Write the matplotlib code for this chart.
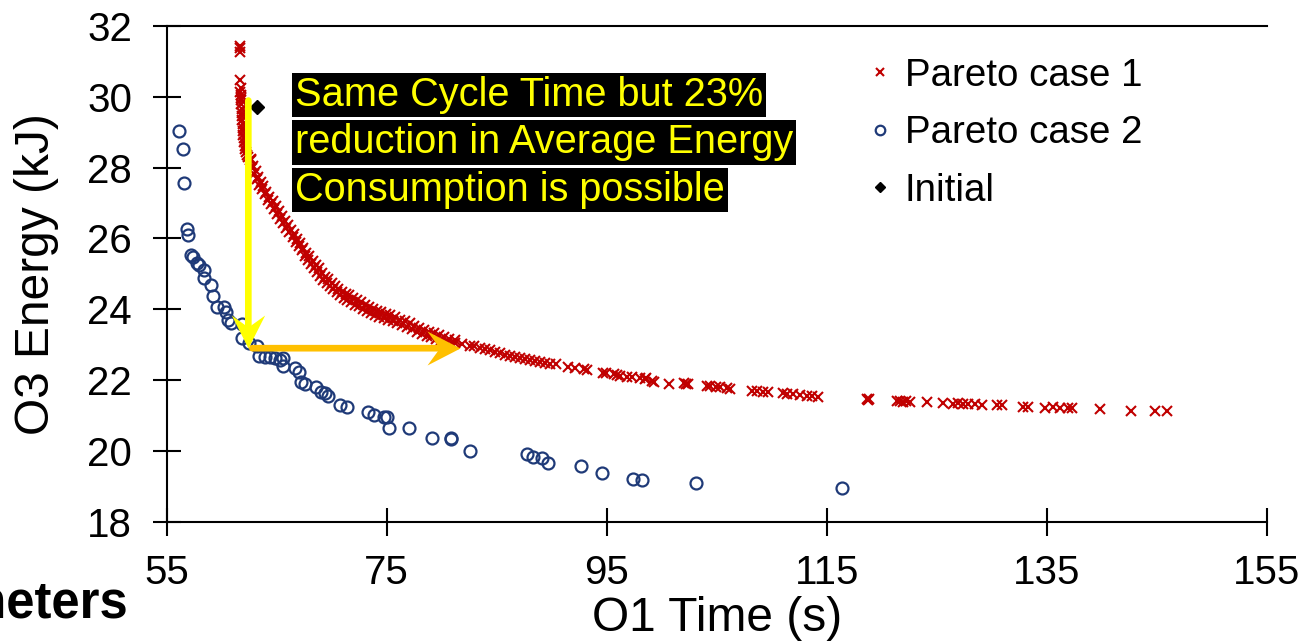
import matplotlib
matplotlib.use("Agg")
import matplotlib.pyplot as plt
from matplotlib.path import Path

plt.rcParams['font.family'] = ['Liberation Sans', 'DejaVu Sans']

# ---------------- data ----------------
# Pareto front, case 1 (time in s, energy in kJ)
pareto1_time = [
    61.62, 61.66, 61.64, 61.68, 61.72, 61.70, 61.76, 61.74, 61.80, 61.78,
    61.84, 61.82, 61.88, 61.86, 61.92, 61.90, 61.96, 61.98, 62.04, 62.02,
    62.10, 62.14, 62.22, 62.30, 62.42, 62.55,
    62.62, 62.70, 62.78, 62.88, 62.98, 63.08, 63.18, 63.30, 63.42, 63.55,
    63.68, 63.80, 63.93, 64.06, 64.20, 64.34, 64.48, 64.62, 64.76, 64.90,
    65.04, 65.18, 65.32, 65.46, 65.60, 65.74, 65.88, 66.02, 66.16, 66.30,
    66.44, 66.58, 66.72, 66.86, 67.00, 67.14, 67.28, 67.42, 67.56, 67.70,
    67.84, 67.98, 68.12, 68.26, 68.40, 68.54, 68.68, 68.82, 68.96, 69.10,
    69.25, 69.40, 69.55, 69.70, 69.85, 70.00, 70.15, 70.30, 70.45, 70.60,
    70.75, 70.92, 71.09, 71.26, 71.43, 71.60, 71.77, 71.94, 72.11, 72.28,
    72.46, 72.64, 72.82, 73.00, 73.18, 73.36, 73.54, 73.72, 73.92, 74.12,
    74.32, 74.52, 74.72, 74.92, 75.12, 75.32, 75.54, 75.76, 75.98, 76.20,
    76.42, 76.64, 76.86, 77.08, 77.30, 77.52, 77.74, 77.96, 78.18, 78.40,
    78.62, 78.84, 79.06, 79.28, 79.50, 79.72, 79.95, 80.20, 80.45, 80.70,
    80.95, 81.20,
    81.21, 81.85, 82.57, 82.94, 83.48, 83.94, 84.39, 84.85, 85.30, 85.75,
    86.21, 86.66, 87.12, 87.57, 88.03, 88.48, 88.94, 89.39, 89.85, 90.39,
    91.48, 92.12, 92.94, 93.21, 94.66, 94.94, 95.66, 95.94, 96.21, 96.85,
    97.30, 98.03, 98.48, 98.56, 99.12, 99.30, 100.66, 102.03, 102.21, 102.39,
    104.12, 104.39, 104.94, 105.30, 105.94, 106.21, 108.21, 108.66, 109.21,
    109.66, 111.03, 111.39, 111.94, 112.57, 113.21, 113.66, 114.21,
    118.70, 118.78, 118.85, 121.39, 121.66, 121.94, 122.20, 122.57, 124.12,
    125.57, 126.48, 126.93, 127.39, 127.84, 128.48, 129.12, 130.50, 130.90,
    132.85, 133.30, 134.85, 135.57, 136.21, 136.94, 137.30, 139.85, 142.66,
    144.84, 145.94,
]
pareto1_energy = [
    31.42, 31.36, 31.25, 30.47, 30.24, 30.14, 30.05, 29.96, 29.90, 29.78,
    29.66, 29.55, 29.44, 29.33, 29.22, 29.12, 29.02, 28.92, 28.82, 28.72,
    28.62, 28.52, 28.44, 28.36, 28.30, 28.22,
    28.24, 28.20, 27.99, 28.04, 27.82, 27.90, 27.68, 27.72, 27.51, 27.59,
    27.38, 27.47, 27.26, 27.32, 27.09, 27.18, 26.97, 27.05, 26.83, 26.90,
    26.68, 26.76, 26.56, 26.64, 26.44, 26.50, 26.29, 26.37, 26.17, 26.25,
    26.04, 26.11, 25.90, 25.98, 25.78, 25.86, 25.66, 25.72, 25.51, 25.59,
    25.39, 25.49, 25.28, 25.36, 25.16, 25.25, 25.05, 25.15, 24.95, 25.02,
    24.82, 24.92, 24.74, 24.85, 24.65, 24.75, 24.56, 24.66, 24.48, 24.58,
    24.39, 24.50, 24.32, 24.44, 24.27, 24.39, 24.21, 24.32, 24.13, 24.25,
    24.08, 24.20, 24.02, 24.13, 23.95, 24.07, 23.90, 24.02, 23.84, 23.96,
    23.79, 23.92, 23.75, 23.87, 23.71, 23.83, 23.66, 23.77, 23.60, 23.71,
    23.55, 23.66, 23.49, 23.60, 23.43, 23.54, 23.37, 23.48, 23.31, 23.42,
    23.25, 23.37, 23.21, 23.32, 23.16, 23.26, 23.12, 23.22, 23.08, 23.17,
    23.03, 23.12,
    23.05, 23.02, 22.96, 22.96, 22.91, 22.88, 22.85, 22.79, 22.77, 22.71,
    22.68, 22.65, 22.62, 22.60, 22.57, 22.54, 22.51, 22.48, 22.45, 22.45,
    22.37, 22.34, 22.31, 22.28, 22.20, 22.20, 22.17, 22.14, 22.12, 22.09,
    22.09, 22.06, 22.03, 22.05, 21.97, 21.95, 21.89, 21.92, 21.89, 21.89,
    21.83, 21.83, 21.81, 21.81, 21.78, 21.75, 21.69, 21.69, 21.66,
    21.66, 21.64, 21.61, 21.61, 21.58, 21.55, 21.55, 21.52,
    21.48, 21.45, 21.47, 21.41, 21.41, 21.39, 21.40, 21.39, 21.39,
    21.36, 21.33, 21.34, 21.33, 21.32, 21.33, 21.30, 21.30, 21.29,
    21.25, 21.24, 21.22, 21.23, 21.22, 21.22, 21.21, 21.19, 21.13,
    21.13, 21.13,
]

# Pareto front, case 2
pareto2_time = [
    56.12, 56.48, 56.57, 56.85, 56.94, 57.21, 57.39, 57.75, 57.94, 58.39,
    58.39, 59.03, 59.21, 59.57, 60.21, 60.39, 60.57, 60.85, 61.85, 61.85,
    62.48, 63.21, 63.39, 63.94, 64.39, 64.85, 65.30, 65.57, 65.57, 66.66,
    67.03, 67.21, 67.57, 68.57, 69.03, 69.39, 69.66, 70.75, 71.39, 73.30,
    73.85, 74.75, 75.03, 75.21, 77.03, 79.12, 80.85, 80.85, 82.57, 87.75,
    88.30, 89.12, 89.66, 92.66, 94.57, 97.39, 98.21, 103.12, 116.39,
]
pareto2_energy = [
    29.03, 28.52, 27.56, 26.26, 26.10, 25.53, 25.47, 25.31, 25.25, 25.11,
    24.88, 24.68, 24.37, 24.06, 24.06, 23.92, 23.70, 23.61, 23.58, 23.19,
    23.05, 22.96, 22.68, 22.65, 22.65, 22.62, 22.57, 22.62, 22.40, 22.34,
    22.23, 21.95, 21.89, 21.81, 21.66, 21.63, 21.55, 21.30, 21.24, 21.10,
    21.02, 20.96, 20.96, 20.65, 20.65, 20.37, 20.37, 20.34, 20.00, 19.91,
    19.83, 19.80, 19.66, 19.58, 19.38, 19.21, 19.18, 19.10, 18.96,
]

# Initial design
initial_time = [63.18]
initial_energy = [29.72]

x_ticks = [55, 75, 95, 115, 135, 155]
y_ticks = [18, 20, 22, 24, 26, 28, 30, 32]

callout_lines = [
    "Same Cycle Time but 23%",
    "reduction in Average Energy",
    "Consumption is possible",
]
callout_x = 66.66
callout_y = [30.05, 28.71, 27.37]

# arrow: same cycle time -> lower energy, then same energy -> longer time
drop_start = (62.42, 29.89)
drop_end = (62.42, 22.90)
shift_start = (62.78, 22.90)
shift_end = (81.67, 22.90)

red = '#C00000'
navy = '#1F3A78'
yellow = '#FFFF00'
gold = '#FFC000'

# ---------------- figure ----------------
W, H = 1310, 643
fig = plt.figure(figsize=(W / 100, H / 100), dpi=100)
ax = fig.add_axes([166.7 / W, (H - 521.8) / H, 1100 / W, 496 / H])

ax.plot(pareto1_time, pareto1_energy, ls='none', marker='x', ms=7.2, mew=1.5,
        color=red, label='Pareto case 1', zorder=3)
ax.plot(pareto2_time, pareto2_energy, ls='none', marker='o', ms=8.6, mew=1.6,
        mfc='none', mec=navy, label='Pareto case 2', zorder=3)
ax.plot(initial_time, initial_energy, ls='none', marker='D', ms=6.8,
        color='black', label='Initial', zorder=4)

ax.set_xlim(55, 155)
ax.set_ylim(18, 32)
ax.set_xticks(x_ticks)
ax.set_yticks(y_ticks)

ax.spines['right'].set_visible(False)
for side in ('left', 'bottom', 'top'):
    ax.spines[side].set_linewidth(1.5)

ax.tick_params(axis='both', direction='inout', length=20, width=1.5,
               labelsize=29, top=False, right=False)
ax.tick_params(axis='y', pad=15)
ax.tick_params(axis='x', pad=13)

ax.set_xlabel('O1 Time (s)', fontsize=34.5, labelpad=3)
ax.set_ylabel('O3 Energy (kJ)', fontsize=34.5, labelpad=20)

# arrows (shaft + notched head)
def arrow(start, end, color, head):
    ax.annotate('', xy=end, xytext=start,
                arrowprops=dict(arrowstyle='-', lw=4.8, color=color,
                                shrinkA=0, shrinkB=9),
                zorder=5)
    ax.plot([end[0]], [end[1]], ls='none', marker=head, ms=47.5,
            color=color, mec='none', zorder=6)

head_down = Path([(0, 0), (16.7, 33), (0, 21), (-16.7, 33), (0, 0)],
                 [Path.MOVETO, Path.LINETO, Path.LINETO, Path.LINETO, Path.CLOSEPOLY])
head_right = Path([(0, 0), (-32, 16.5), (-20, 0), (-32, -16.5), (0, 0)],
                  [Path.MOVETO, Path.LINETO, Path.LINETO, Path.LINETO, Path.CLOSEPOLY])
arrow(drop_start, drop_end, yellow, head_down)
arrow(shift_start, shift_end, gold, head_right)

# callout text
for line, yy in zip(callout_lines, callout_y):
    ax.text(callout_x, yy, line, fontsize=28.6, color=yellow, ha='left',
            va='center', zorder=7,
            bbox=dict(boxstyle='square,pad=0.08', fc='black', ec='none'))

leg = ax.legend(loc='upper left', bbox_to_anchor=(868 / W, 0.91),
                bbox_transform=fig.transFigure, frameon=False, fontsize=27.7,
                handlelength=0.6, handletextpad=0.35, labelspacing=0.56,
                borderpad=0, borderaxespad=0, markerscale=0.8)

fig.text(128 / W, (H - 617) / H, 'Parameters', ha='right', va='baseline',
         fontsize=36.5, fontweight='bold')

fig.savefig('out.png', dpi=100)
